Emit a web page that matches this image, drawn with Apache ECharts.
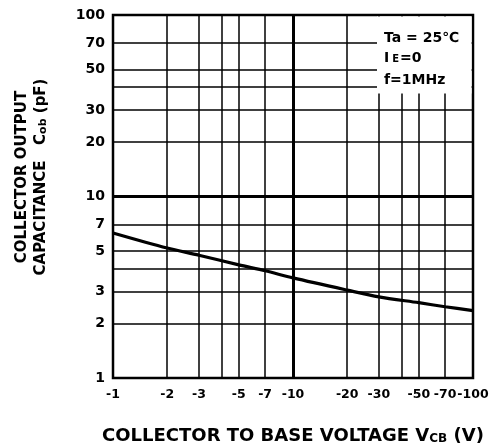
<!DOCTYPE html>
<html><head><meta charset="utf-8">
<script src="https://cdn.jsdelivr.net/npm/echarts@6/dist/echarts.min.js"></script>
<style>html,body{margin:0;padding:0;background:#fff}#c{width:495px;height:444px}</style>
</head><body><div id="c"></div>
<script>
// Collector-to-base voltage (V) and collector output capacitance (pF)
const vcb = [-1, -2, -3, -5, -7, -10, -20, -30, -50, -70, -100];
const cob = [6.3, 5.2, 4.75, 4.2, 3.9, 3.56, 3.05, 2.8, 2.6, 2.47, 2.35];
// grid lines and tick labels
const xGrid = [-1, -2, -3, -4, -5, -7, -10, -20, -30, -40, -50, -70, -100];
const xTickLabels = [-1, -2, -3, -5, -7, -10, -20, -30, -50, -70, -100];
const yGrid = [1, 2, 3, 4, 5, 7, 10, 20, 30, 40, 50, 70, 100];
const yTickLabels = [1, 2, 3, 5, 7, 10, 20, 30, 50, 70, 100];
const thickX = [-10];
const thickY = [10];

const lg = v => Math.log10(Math.abs(v));
const FONT = 'DejaVu Sans';
const chart = echarts.init(document.getElementById('c'), null, {renderer: 'canvas'});

const option = {
  animation: false,
  backgroundColor: '#fff',
  grid: {left: 113, right: 22, top: 15, bottom: 66, containLabel: false, outerBoundsMode: 'none',
    show: true, borderColor: '#000', borderWidth: 2.5, backgroundColor: 'transparent'},
  xAxis: {
    type: 'value', min: 0, max: 2,
    name: 'COLLECTOR TO BASE VOLTAGE V{sub|CB} (V)',
    nameLocation: 'middle', nameGap: 49,
    nameTextStyle: {fontFamily: FONT, fontSize: 18, fontWeight: 'bold', color: '#000',
      rich: {sub: {fontFamily: FONT, fontSize: 12, fontWeight: 'bold', color: '#000', padding: [6, 0, 0, 0]}}},
    axisLine: {show: false},
    axisTick: {show: false, customValues: xGrid.map(lg)},
    axisLabel: {customValues: xTickLabels.map(lg), formatter: v => '-' + Math.round(Math.pow(10, v)),
      showMinLabel: true, showMaxLabel: true, hideOverlap: false,
      fontFamily: FONT, fontSize: 12.5, fontWeight: 'bold', color: '#000', margin: 10},
    splitLine: {show: true, lineStyle: {color: '#000', width: 1.5}}
  },
  yAxis: {
    type: 'value', min: 0, max: 2,
    axisLine: {show: false},
    axisTick: {show: false, customValues: yGrid.map(lg)},
    axisLabel: {customValues: yTickLabels.map(lg), formatter: v => String(Math.round(Math.pow(10, v))),
      showMinLabel: true, showMaxLabel: true, hideOverlap: false,
      fontFamily: FONT, fontSize: 14, fontWeight: 'bold', color: '#000', margin: 8},
    splitLine: {show: true, lineStyle: {color: '#000', width: 1.5}}
  },
  series: [{
    type: 'line',
    data: vcb.map((v, i) => [lg(v), lg(cob[i])]),
    smooth: 0.3, symbol: 'none',
    lineStyle: {color: '#000', width: 3.2},
    z: 3,
    markLine: {
      silent: true, symbol: 'none', label: {show: false},
      lineStyle: {color: '#000', width: 3, type: 'solid'},
      data: thickX.map(v => ({xAxis: lg(v)})).concat(thickY.map(v => ({yAxis: lg(v)})))
    }
  }],
  graphic: [
    {type: 'rect', z: 100, shape: {x: 377, y: 16.5, width: 94.5, height: 77}, style: {fill: '#fff'}},
    {type: 'text', z: 101, left: 384, top: 31, style: {text: 'Ta = 25℃', fontFamily: FONT, fontSize: 14, fontWeight: 'bold', fill: '#000'}},
    {type: 'text', z: 101, left: 384, top: 51, style: {text: 'I{sub|E}=0', fontFamily: FONT, fontSize: 14, fontWeight: 'bold', fill: '#000',
      rich: {sub: {fontFamily: FONT, fontSize: 10, fontWeight: 'bold', fill: '#000', padding: [3, 1, 0, 3]}}}},
    {type: 'text', z: 101, left: 384, top: 73, style: {text: 'f=1MHz', fontFamily: FONT, fontSize: 14, fontWeight: 'bold', fill: '#000'}},
    {type: 'text', z: 101, x: 22, y: 177, rotation: Math.PI / 2,
      style: {text: 'COLLECTOR OUTPUT', fontFamily: FONT, fontSize: 15, fontWeight: 'bold', fill: '#000', align: 'center', verticalAlign: 'middle'}},
    {type: 'text', z: 101, x: 41, y: 177, rotation: Math.PI / 2,
      style: {text: 'CAPACITANCE   C{sub|ob} (pF)', fontFamily: FONT, fontSize: 15, fontWeight: 'bold', fill: '#000', align: 'center', verticalAlign: 'middle',
        rich: {sub: {fontFamily: FONT, fontSize: 11, fontWeight: 'bold', fill: '#000', padding: [4, 0, 0, 0]}}}}
  ]
};
chart.setOption(option);
</script></body></html>
